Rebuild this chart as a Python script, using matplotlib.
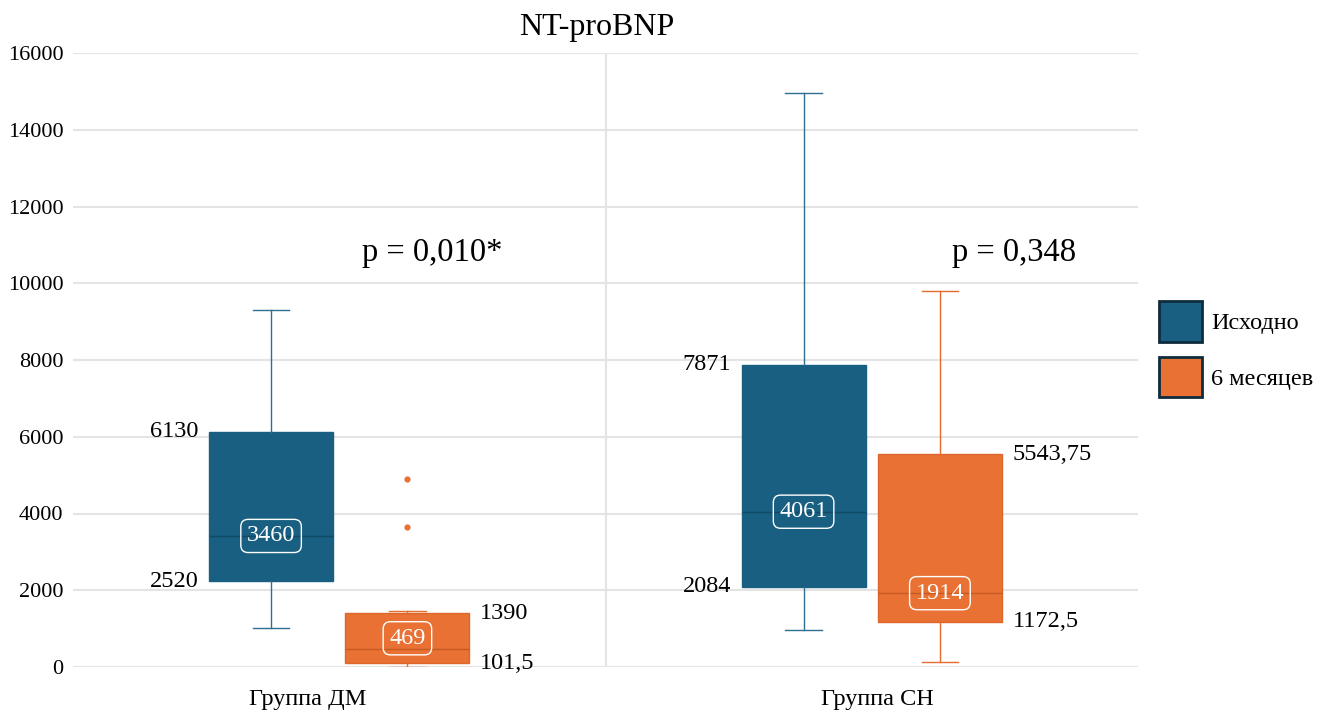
import matplotlib.pyplot as plt
from matplotlib.patches import Patch

plt.rcParams['font.family'] = ['Liberation Serif', 'DejaVu Serif']

# данные
groups = ['Группа ДМ', 'Группа СН']
series = ['Исходно', '6 месяцев']

base_whislo = [1017, 975]
base_q1 = [2240, 2086]
base_med = [3415, 4047]
base_q3 = [6132, 7880]
base_whishi = [9311, 14957]
base_fliers = [[], []]

six_whislo = [8, 130]
six_q1 = [96, 1181]
six_med = [477, 1924]
six_q3 = [1400, 5541]
six_whishi = [1460, 9810]
six_fliers = [[4894, 3658], []]

# подписи
base_q1_lbl = ['2520', '2084']
base_q3_lbl = ['6130', '7871']
base_med_lbl = ['3460', '4061']
six_q1_lbl = ['101,5', '1172,5']
six_q3_lbl = ['1390', '5543,75']
six_med_lbl = ['469', '1914']
p_values = ['p = 0,010*', 'p = 0,348']
p_x = [0.175, 1.267]

blue = '#185f81'
orange = '#e87133'
grid_c = '#e4e4e4'

fig = plt.figure(figsize=(13.28, 7.18), dpi=100)
ax = fig.add_axes([73/1328, 1 - 667/718, (1138-73)/1328, (667-53)/718])

off = 0.128
w = 0.233


def stats(wl, q1, med, q3, wh, fl):
    return [dict(whislo=wl[i], q1=q1[i], med=med[i], q3=q3[i], whishi=wh[i], fliers=fl[i])
            for i in range(len(wl))]


sets = [
    (stats(base_whislo, base_q1, base_med, base_q3, base_whishi, base_fliers), -off,
     blue, blue, '#2f6f90', '#124a66'),
    (stats(six_whislo, six_q1, six_med, six_q3, six_whishi, six_fliers), off,
     orange, '#dc662c', '#e46a2d', '#c65a22'),
]
for st, o, fc, ec, wc, mc in sets:
    pos = [i + o for i in range(len(groups))]
    ax.bxp(st, positions=pos, widths=w, patch_artist=True, capwidths=0.069,
           boxprops=dict(facecolor=fc, edgecolor=ec, linewidth=1),
           whiskerprops=dict(color=wc, linewidth=1),
           capprops=dict(color=wc, linewidth=1),
           medianprops=dict(color=mc, linewidth=1),
           flierprops=dict(marker='o', markersize=4.5, markerfacecolor=orange,
                           markeredgecolor='none'),
           zorder=3)

lbl_fs = 17.5
for i in range(len(groups)):
    # исходно: подписи слева
    xl = i - off - w/2 - 0.02
    ax.text(xl, base_q3[i], base_q3_lbl[i], ha='right', va='center', fontsize=lbl_fs, zorder=5)
    ax.text(xl, base_q1[i], base_q1_lbl[i], ha='right', va='center', fontsize=lbl_fs, zorder=5)
    # 6 месяцев: подписи справа
    xr = i + off + w/2 + 0.02
    ax.text(xr, six_q3[i], six_q3_lbl[i], ha='left', va='center', fontsize=lbl_fs, zorder=5)
    ax.text(xr, six_q1[i], six_q1_lbl[i], ha='left', va='center', fontsize=lbl_fs, zorder=5)
    # медианы
    for xc, q1, q3, med, lb in [(i - off, base_q1[i], base_q3[i], base_med[i], base_med_lbl[i]),
                                (i + off, six_q1[i], six_q3[i], six_med[i], six_med_lbl[i])]:
        ym = med if q3 - q1 > 2000 else (q1 + q3) / 2
        ax.text(xc, ym, lb, ha='center', va='center', color='white', fontsize=lbl_fs, zorder=6,
                bbox=dict(boxstyle='round,pad=0.25,rounding_size=0.3', facecolor='none',
                          edgecolor='white', linewidth=1))
    # p
    ax.text(p_x[i], 10800, p_values[i], ha='center', va='center', fontsize=23.5, zorder=5)

ax.set_xlim(-0.5, 1.5)
ax.set_ylim(0, 16000)
ax.set_yticks(range(0, 16001, 2000))
ax.set_xticks([-0.06, 1.01])
ax.set_xticklabels(groups)
ax.tick_params(axis='both', length=0)
ax.tick_params(axis='y', labelsize=16, pad=7)
ax.tick_params(axis='x', labelsize=17.5, pad=16)
ax.yaxis.grid(True, color=grid_c, linewidth=1.5)
ax.axvline(0.5, color=grid_c, linewidth=1.5, zorder=0)
ax.set_axisbelow(True)
for s in ax.spines.values():
    s.set_visible(False)

fig.text(597/1328, 1 - 27/718, 'NT-proBNP', ha='center', va='center', fontsize=23)

handles = [Patch(facecolor=blue, edgecolor='#0e2c3c', linewidth=2),
           Patch(facecolor=orange, edgecolor='#0e2c3c', linewidth=2)]
fig.legend(handles, series, loc='upper left', bbox_to_anchor=(1159/1328, 1 - 301/718),
           frameon=False, fontsize=17.5, handlelength=1.75, handleheight=2.2,
           handletextpad=0.4, labelspacing=0.62, borderpad=0, borderaxespad=0)

fig.savefig('out.png', dpi=100)
